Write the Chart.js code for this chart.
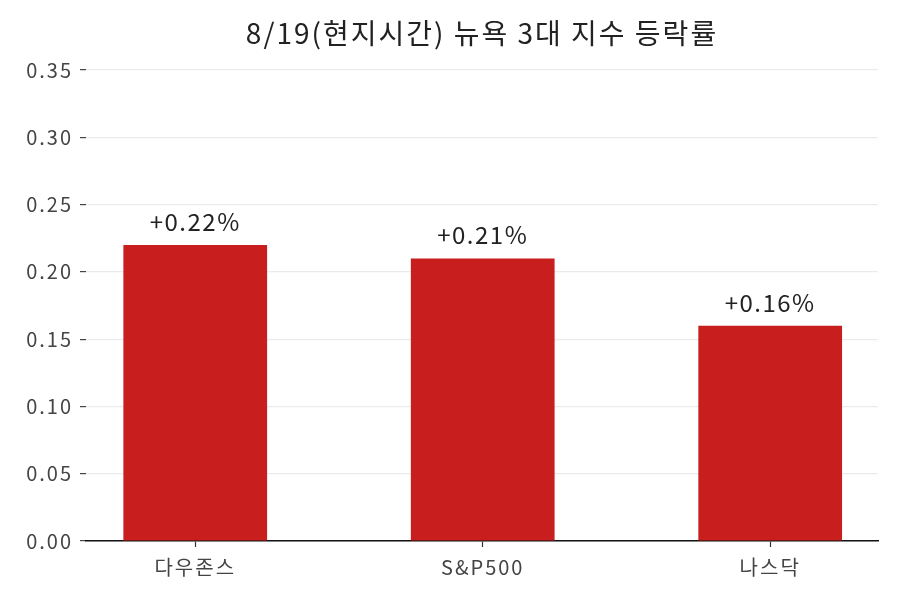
<!DOCTYPE html>
<html><head><meta charset="utf-8">
<script src="https://cdn.jsdelivr.net/npm/chart.js@4"></script>
<style>html,body{margin:0;padding:0;background:#fff}#wrap{width:900px;height:600px}</style>
</head><body><div id="wrap"><canvas id="c" width="900" height="600"></canvas></div>
<script>
const categories = ['다우존스', 'S&P500', '나스닥'];
const changes = [0.22, 0.21, 0.16];
const valueLabels = ['+0.22%', '+0.21%', '+0.16%'];
const yTicks = [0, 0.05, 0.10, 0.15, 0.20, 0.25, 0.30, 0.35];
const titleText = '8/19(현지시간) 뉴욕 3대 지수 등락률';
const FONT = "'Noto Sans CJK KR', 'Noto Sans', sans-serif";

const spacingPlugin = {
  id: 'spacing',
  beforeLayout(chart) { chart.ctx.letterSpacing = '2px'; },
  afterLayout(chart) {
    if (chart.titleBlock) {
      chart.titleBlock.left = chart.chartArea.left;
      chart.titleBlock.right = chart.chartArea.right;
    }
  },
  beforeDraw(chart) { chart.ctx.letterSpacing = '2px'; }
};

const labelPlugin = {
  id: 'valueLabels',
  afterDatasetsDraw(chart) {
    const ctx = chart.ctx;
    const meta = chart.getDatasetMeta(0);
    ctx.save();
    ctx.letterSpacing = '1.5px';
    ctx.font = '24px ' + FONT;
    ctx.fillStyle = '#222';
    ctx.textAlign = 'center';
    ctx.textBaseline = 'alphabetic';
    meta.data.forEach((bar, i) => {
      ctx.fillText(valueLabels[i], bar.x, bar.y - 14);
    });
    ctx.restore();
  }
};

new Chart(document.getElementById('c'), {
  type: 'bar',
  data: {
    datasets: [{
      data: categories.map((c, i) => ({x: i, y: changes[i]})),
      backgroundColor: '#c81e1e',
      borderWidth: 0,
      barPercentage: 0.5,
      categoryPercentage: 1.0
    }]
  },
  options: {
    responsive: false,
    animation: false,
    devicePixelRatio: 1,
    layout: {padding: {left: 0, right: 22, top: 0, bottom: 0}},
    plugins: {
      legend: {display: false},
      tooltip: {enabled: false},
      title: {
        display: true,
        text: titleText,
        color: '#222',
        font: {family: FONT, size: 28, weight: 'normal', lineHeight: 1.2},
        padding: {top: 17, bottom: 19.4}
      }
    },
    scales: {
      x: {
        type: 'linear',
        offset: false,
        min: -0.38,
        max: 2.375,
        afterBuildTicks(scale) { scale.ticks = categories.map((c, i) => ({value: i})); },
        afterFit(scale) { scale.height = 59; },
        ticks: {
          callback: (v) => categories[v] ?? '',
          color: '#444',
          font: {family: FONT, size: 20},
          padding: 8,
          maxRotation: 0,
          autoSkip: false
        },
        grid: {offset: false, drawOnChartArea: false, drawTicks: true, tickLength: 6, tickColor: '#333', tickWidth: 1.2},
        border: {display: true, color: '#111', width: 1.5}
      },
      y: {
        min: 0,
        max: 0.35,
        afterFit(scale) { scale.width = 86; },
        afterBuildTicks(scale) { scale.ticks = yTicks.map(v => ({value: v})); },
        ticks: {
          callback: (v) => Number(v).toFixed(2),
          color: '#444',
          font: {family: FONT, size: 20},
          padding: 7
        },
        grid: {color: '#ebebef', lineWidth: 1.2, tickLength: 6, tickColor: '#444', tickWidth: 1.2},
        border: {display: false}
      }
    }
  },
  plugins: [spacingPlugin, labelPlugin]
});
</script>
</body></html>
